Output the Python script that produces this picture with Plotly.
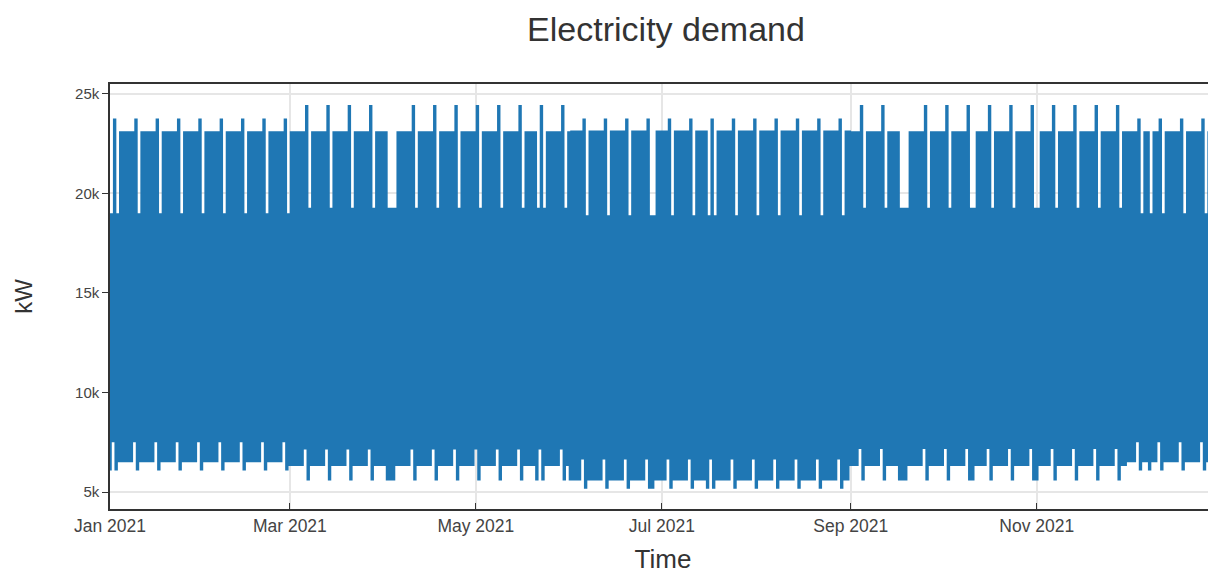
import pandas as pd
import plotly.graph_objects as go

# ---- values (kW) ----
season_of_month = {1: "winter", 2: "winter", 3: "spring", 4: "spring", 5: "spring",
                   6: "summer", 7: "summer", 8: "summer", 9: "autumn", 10: "autumn",
                   11: "autumn", 12: "winter"}

# daily peak by day type
peak_weekday = {"winter": 23070, "spring": 23070, "summer": 23100, "autumn": 23070}
peak_saturday = {"winter": 23710, "spring": 24380, "summer": 23710, "autumn": 24380}
peak_sunday = {"winter": 18950, "spring": 19230, "summer": 18850, "autumn": 19230}

# night trough (the night before each day) by day type
trough_weekday = {"winter": 6560, "spring": 6360, "summer": 5640, "autumn": 6360}
trough_saturday = {"winter": 7560, "spring": 7200, "summer": 6690, "autumn": 7220}
trough_sunday = {"winter": 6140, "spring": 5640, "summer": 5220, "autumn": 5640}

# days that behave like Sundays (read from the wider gaps)
holidays = ["2021-01-01", "2021-04-02", "2021-04-03", "2021-05-21",
            "2021-06-28", "2021-07-16", "2021-09-17", "2021-09-18",
            "2021-10-11", "2021-11-01", "2021-12-08"]

# hours (relative to each day's midnight) where the trough / peak plateaus start and end
trough_hours = [-5, 6]
peak_hours = [7, 18]

days = pd.date_range("2021-01-01", "2021-12-31", freq="D")
hol = set(pd.to_datetime(holidays))

times, demand = [], []
for d in days:
    s = season_of_month[d.month]
    if d in hol or d.dayofweek == 6:
        lo, hi = trough_sunday[s], peak_sunday[s]
    elif d.dayofweek == 5:
        lo, hi = trough_saturday[s], peak_saturday[s]
    else:
        lo, hi = trough_weekday[s], peak_weekday[s]
    for h in trough_hours:
        times.append(d + pd.Timedelta(hours=h))
        demand.append(lo)
    for h in peak_hours:
        times.append(d + pd.Timedelta(hours=h))
        demand.append(hi)

fig = go.Figure(go.Scatter(x=times, y=demand, mode="lines",
                           line=dict(color="#1f77b4", width=2, simplify=False),
                           showlegend=False))

font_family = "Liberation Sans, Arial, sans-serif"
W, H = 1208, 571
fig.update_layout(
    width=W, height=H,
    template="plotly_white",
    paper_bgcolor="white", plot_bgcolor="white",
    margin=dict(l=102, r=0, t=76, b=70, autoexpand=False),
    font=dict(family=font_family, color="#444"),
    title=dict(text="Electricity demand", x=658 / W, xref="container", xanchor="center",
               y=1 - 21 / H, yref="container", yanchor="middle", automargin=False,
               font=dict(size=34, color="#333", family=font_family)),
)
fig.update_xaxes(
    range=["2021-01-01", "2021-12-29 19:00"],
    dtick="M2", tickformat="%b %Y", automargin=False,
    showline=True, linecolor="#333", linewidth=1.5, mirror=True,
    ticks="inside", ticklen=6, tickcolor="#333",
    showgrid=True, gridcolor="#e6e6e6", gridwidth=1.5,
    tickfont=dict(size=17.5, color="#444"),
    title=dict(text="Time", font=dict(size=26, color="#333"), standoff=15),
)
fig.update_yaxes(
    range=[4157, 25490], automargin=False,
    tickvals=[5000, 10000, 15000, 20000, 25000],
    ticktext=["5k", "10k", "15k", "20k", "25k"],
    showline=True, linecolor="#333", linewidth=1.5, mirror=False,
    ticks="outside", ticklen=6, tickcolor="#333",
    showgrid=True, gridcolor="#e6e6e6", gridwidth=1.5, zeroline=False,
    tickfont=dict(size=15, color="#444"),
    title=dict(text="kW", font=dict(size=24, color="#333"), standoff=36),
)

fig.write_html("out.html")
